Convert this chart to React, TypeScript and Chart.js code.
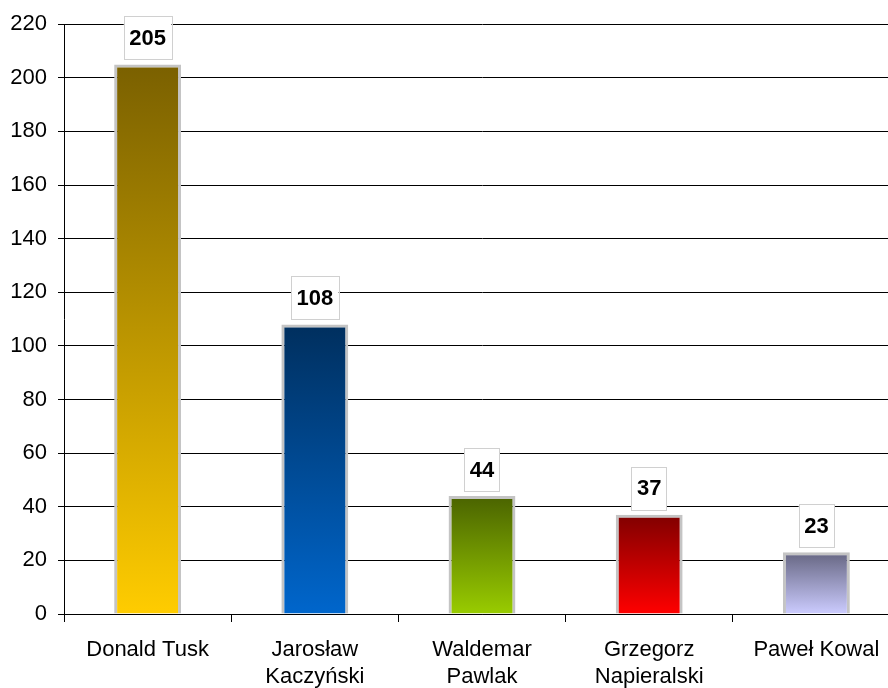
import React, { useEffect, useRef } from "react";
import { Chart, registerables } from "chart.js";

Chart.register(...registerables);

const categories: (string | string[])[] = [
  "Donald Tusk",
  ["Jarosław", "Kaczyński"],
  ["Waldemar", "Pawlak"],
  ["Grzegorz", "Napieralski"],
  "Paweł Kowal",
];
const values = [205, 108, 44, 37, 23];
const topColors = ["#7a6000", "#002f5e", "#4a6300", "#800000", "#666682"];
const bottomColors = ["#ffcc00", "#0066cc", "#99cc00", "#ff0000", "#ccccff"];
const yMax = 220;
const yStep = 20;

const FONT = "'Liberation Sans', Arial, sans-serif";

const labelPlugin = {
  id: "valueBoxes",
  afterDatasetsDraw(chart: any) {
    const ctx = chart.ctx;
    const meta = chart.getDatasetMeta(0);
    ctx.save();
    ctx.font = `bold 22px ${FONT}`;
    ctx.textAlign = "center";
    ctx.textBaseline = "middle";
    meta.data.forEach((bar: any, i: number) => {
      const text = String(values[i]);
      const w = ctx.measureText(text).width + 11;
      const h = 43;
      const x = bar.x - w / 2;
      const y = bar.y - 5 - h;
      ctx.fillStyle = "#ffffff";
      ctx.fillRect(x, y, w, h);
      ctx.strokeStyle = "#d0d0d0";
      ctx.lineWidth = 1;
      ctx.strokeRect(Math.round(x) + 0.5, Math.round(y) + 0.5, Math.round(w), Math.round(h));
      ctx.fillStyle = "#000000";
      ctx.fillText(text, bar.x, y + h / 2 + 1);
    });
    ctx.restore();
  },
};

export default function App() {
  const ref = useRef<HTMLCanvasElement>(null);
  useEffect(() => {
    const canvas = ref.current!;
    const chart = new Chart(canvas, {
      type: "bar",
      data: {
        labels: categories,
        datasets: [
          {
            data: values,
            backgroundColor: (c: any) => {
              const i = c.dataIndex ?? 0;
              const ch = c.chart;
              const ys = ch.scales?.y;
              if (!ys || !ch.chartArea) return bottomColors[i];
              const top = ys.getPixelForValue(values[i]);
              const base = ys.getPixelForValue(0);
              if (!isFinite(top) || !isFinite(base) || top === base) return bottomColors[i];
              const g = ch.ctx.createLinearGradient(0, top, 0, base);
              g.addColorStop(0, topColors[i]);
              g.addColorStop(1, bottomColors[i]);
              return g;
            },
            borderColor: "#c4c4c4",
            borderWidth: 3,
            borderSkipped: "start",
            barPercentage: 0.4,
            categoryPercentage: 1,
          },
        ],
      },
      options: {
        responsive: false,
        animation: false,
        devicePixelRatio: 1,
        layout: { padding: { left: 0, top: 12, right: 0, bottom: 0 } },
        plugins: { legend: { display: false }, tooltip: { enabled: false } },
        scales: {
          x: {
            offset: true,
            afterFit: (s: any) => {
              s.height = 74;
            },
            grid: {
              offset: true,
              drawOnChartArea: false,
              drawTicks: true,
              tickLength: 8,
              color: "#000000",
            },
            border: { display: true, color: "#000000", width: 1 },
            ticks: {
              color: "#000000",
              font: { family: FONT, size: 22 },
              maxRotation: 0,
              autoSkip: false,
              padding: 15,
            },
          },
          y: {
            min: 0,
            max: yMax,
            afterFit: (s: any) => {
              s.width = 64;
            },
            grid: {
              color: "#000000",
              lineWidth: 1,
              tickLength: 6,
            },
            border: { display: true, color: "#000000", width: 1 },
            ticks: {
              stepSize: yStep,
              color: "#000000",
              font: { family: FONT, size: 22 },
              padding: 11,
            },
          },
        },
      },
      plugins: [labelPlugin],
    });
    chart.update();
    return () => chart.destroy();
  }, []);
  return (
    <div
      style={{
        position: "fixed",
        left: 0,
        top: 0,
        width: 888,
        height: 688,
        overflow: "hidden",
        background: "#ffffff",
      }}
    >
      <canvas ref={ref} width={900} height={688} style={{ display: "block" }} />
    </div>
  );
}
